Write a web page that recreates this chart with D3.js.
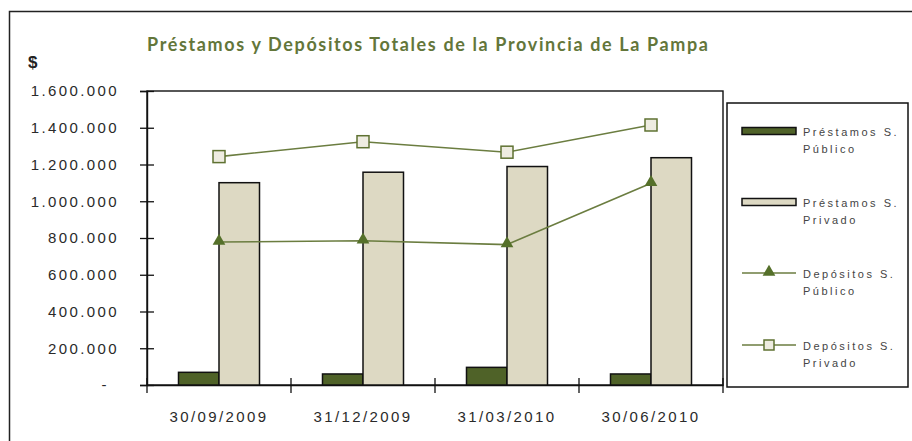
<html>
<head>
  <meta charset="utf8">
  <title>Préstamos y Depósitos Totales de la Provincia de La Pampa</title>
  <style>
  * { margin: 0; padding: 0; }
  body { background: #fff; }
  text { font-family: "Liberation Sans", Arial, sans-serif; }
  .bar { stroke: #111; stroke-width: 1.5px; }
  .line { fill: none; stroke: #6b7d40; stroke-width: 1.6px; }
  </style>
</head>
<body>
  <script src="https://cdn.jsdelivr.net/npm/d3@7"></script>
  <script>
  // valores (en $ miles)
  var categories = ["30/09/2009", "31/12/2009", "31/03/2010", "30/06/2010"]
  var prestPublico = [69000, 60000, 96000, 60000]
  var prestPrivado = [1101000, 1158000, 1189000, 1237000]
  var depPublico = [778000, 785000, 764000, 1098000]
  var depPrivado = [1243000, 1324000, 1267000, 1415000]
  var yTicks = [0, 200000, 400000, 600000, 800000, 1000000, 1200000, 1400000, 1600000]
  var seriesNames = [["Préstamos S.", "Público"], ["Préstamos S.", "Privado"],
                     ["Depósitos S.", "Público"], ["Depósitos S.", "Privado"]]

  var W = 912, H = 441
  var plot = {left: 147, top: 91, right: 723, bottom: 385}

  var locale = d3.formatLocale({decimal: ",", thousands: ".", grouping: [3], currency: ["$", ""]})
  var fmt = locale.format(",")

  var svg = d3.select("body").append("svg")
    .attr("width", W).attr("height", H)
    .attr("viewBox", `0 0 ${W} ${H}`)

  svg.append("rect").attr("width", W).attr("height", H).attr("fill", "#fff")

  // marco exterior (solo se ven arriba e izquierda)
  svg.append("rect")
    .attr("x", 9.5).attr("y", 11.5).attr("width", W + 20).attr("height", H + 20)
    .attr("fill", "none").attr("stroke", "#222").attr("stroke-width", 1.5)

  var y = d3.scaleLinear().domain([0, 1600000]).range([plot.bottom, plot.top])
  var x = d3.scaleBand().domain(categories).range([plot.left, plot.right]).padding(0)
  var barW = 40.5

  // marco del area de grafico
  svg.append("rect")
    .attr("x", plot.left).attr("y", plot.top)
    .attr("width", plot.right - plot.left).attr("height", plot.bottom - plot.top)
    .attr("fill", "none").attr("stroke", "#111").attr("stroke-width", 1.4)

  // eje y
  var yAxis = svg.append("g")
    .attr("transform", `translate(${plot.left},0)`)
    .call(d3.axisLeft(y).tickValues(yTicks).tickSize(7).tickPadding(21)
      .tickFormat(d => d === 0 ? "-" : fmt(d)))
  yAxis.select(".domain").attr("stroke", "#111").attr("stroke-width", 1.4)
  yAxis.selectAll(".tick line").attr("x1", 7).attr("stroke", "#111").attr("stroke-width", 1.3)
  yAxis.selectAll(".tick text")
    .style("font-size", "15px").style("letter-spacing", "2.4px")
    .attr("fill", "#2a2a2a")
    .attr("dx", d => d === 0 ? -10 : 0)

  // eje x
  var xAxis = svg.append("g")
    .attr("transform", `translate(0,${plot.bottom})`)
    .call(d3.axisBottom(x).tickSize(0).tickPadding(26))
  xAxis.select(".domain").attr("stroke", "#111").attr("stroke-width", 1.4)
  xAxis.selectAll(".tick text")
    .style("font-size", "15px").style("letter-spacing", "2.4px")
    .attr("fill", "#2a2a2a")
  var bounds = categories.map(c => x(c)).concat([x.range()[1]])
  svg.selectAll(".xtick").data(bounds).enter().append("line")
    .attr("x1", d => d).attr("x2", d => d)
    .attr("y1", plot.bottom - 7).attr("y2", plot.bottom + 8)
    .attr("stroke", "#111").attr("stroke-width", 1.3)

  var cx = c => x(c) + x.bandwidth() / 2

  // barras
  svg.selectAll(".bpub").data(prestPublico).enter().append("rect")
    .attr("class", "bar")
    .attr("x", (d, i) => cx(categories[i]) - barW)
    .attr("y", d => y(d)).attr("width", barW).attr("height", d => y(0) - y(d))
    .attr("fill", "#4f6228")
  svg.selectAll(".bpri").data(prestPrivado).enter().append("rect")
    .attr("class", "bar")
    .attr("x", (d, i) => cx(categories[i]))
    .attr("y", d => y(d)).attr("width", barW).attr("height", d => y(0) - y(d))
    .attr("fill", "#ddd9c3")

  var line = d3.line().x((d, i) => cx(categories[i])).y(d => y(d))
  var tri = d3.symbol().type(d3.symbolTriangle).size(70)

  svg.append("path").datum(depPublico).attr("class", "line").attr("d", line)
  svg.selectAll(".tri").data(depPublico).enter().append("path")
    .attr("d", tri)
    .attr("transform", (d, i) => `translate(${cx(categories[i])},${y(d) - 1})`)
    .attr("fill", "#55702a")

  svg.append("path").datum(depPrivado).attr("class", "line").attr("d", line)
  svg.selectAll(".sq").data(depPrivado).enter().append("rect")
    .attr("x", (d, i) => cx(categories[i]) - 6).attr("y", d => y(d) - 6)
    .attr("width", 12).attr("height", 12)
    .attr("fill", "#eeece1").attr("stroke", "#5f7232").attr("stroke-width", 1.5)

  // titulo
  svg.append("text")
    .attr("x", 147).attr("y", 51)
    .attr("textLength", 561).attr("lengthAdjust", "spacing")
    .style("font-family", "Lato, 'Open Sans', sans-serif")
    .style("font-size", "18px").style("font-weight", "bold")
    .attr("fill", "#63763a")
    .text("Préstamos y Depósitos Totales de la Provincia de La Pampa")

  svg.append("text")
    .attr("x", 28).attr("y", 68)
    .style("font-size", "17px").style("font-weight", "bold")
    .attr("fill", "#222")
    .text("$")

  // leyenda
  var lg = svg.append("g")
  lg.append("rect")
    .attr("x", 727).attr("y", 103).attr("width", 181).attr("height", 284)
    .attr("fill", "#fff").attr("stroke", "#111").attr("stroke-width", 1.5)

  var itemY = [131, 202, 273, 345]
  var items = lg.selectAll(".item").data(seriesNames).enter().append("g")
    .attr("transform", (d, i) => `translate(0,${itemY[i]})`)

  items.each(function(d, i) {
    var g = d3.select(this)
    if (i < 2) {
      g.append("rect").attr("class", "bar")
        .attr("x", 742).attr("y", -3.5).attr("width", 54).attr("height", 7)
        .attr("fill", i === 0 ? "#4f6228" : "#ddd9c3")
    } else {
      g.append("line").attr("class", "line")
        .attr("x1", 742).attr("x2", 796).attr("y1", 0).attr("y2", 0)
      if (i === 2) {
        g.append("path").attr("d", tri).attr("transform", "translate(769,-1)").attr("fill", "#55702a")
      } else {
        g.append("rect").attr("x", 764).attr("y", -5).attr("width", 10).attr("height", 10)
          .attr("fill", "#eeece1").attr("stroke", "#5f7232").attr("stroke-width", 1.5)
      }
    }
    g.selectAll("text").data(d).enter().append("text")
      .attr("x", 803).attr("y", (t, j) => 5 + j * 17)
      .style("font-size", "11px").style("letter-spacing", "2.5px")
      .attr("fill", "#444")
      .text(t => t)
  })
  </script>
</body>
</html>
